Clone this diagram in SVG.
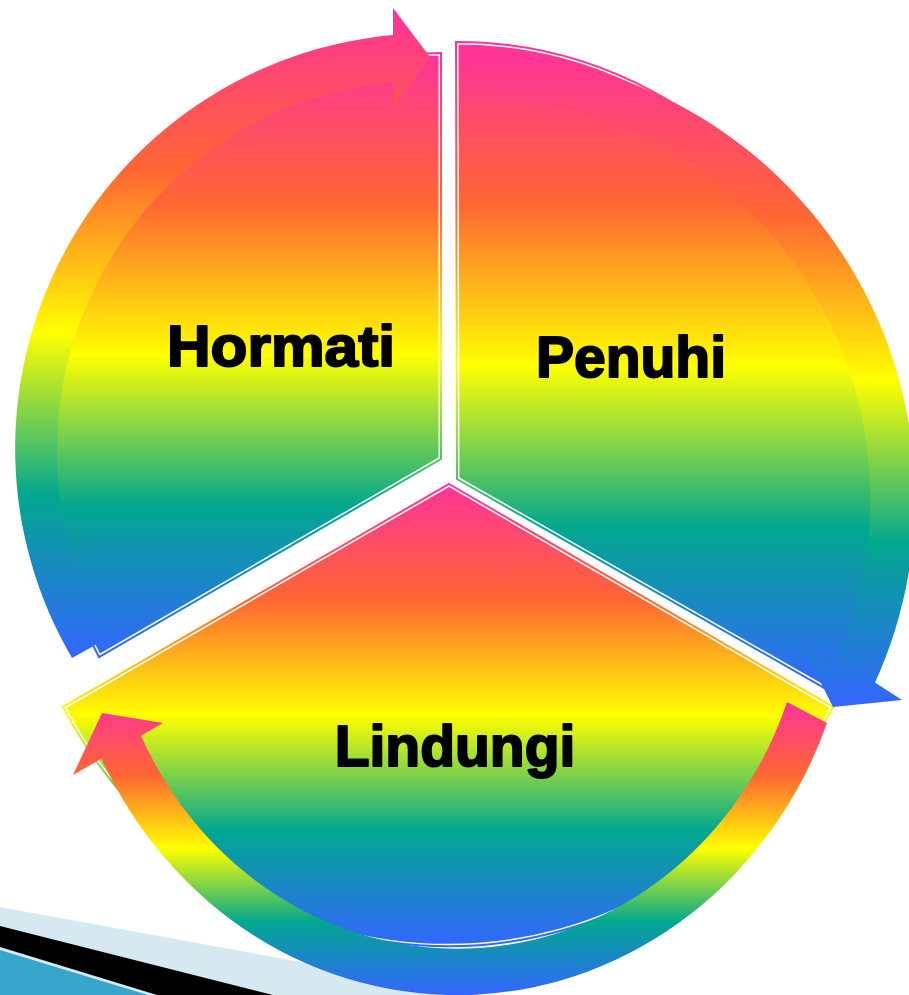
<svg xmlns="http://www.w3.org/2000/svg" width="909" height="995" viewBox="0 0 909 995">
<defs>
<linearGradient id="rb" x1="0" y1="0" x2="0" y2="1">
<stop offset="0" stop-color="#FF3399"/>
<stop offset="0.25" stop-color="#FF6633"/>
<stop offset="0.5" stop-color="#FFFF00"/>
<stop offset="0.75" stop-color="#01A78F"/>
<stop offset="1" stop-color="#3366FF"/>
</linearGradient>
<style>
.fill{fill:url(#rb)}
.gap{fill:none;stroke:#fff;stroke-width:5;stroke-linejoin:miter}
.edge{fill:none;stroke:url(#rb);stroke-width:2;stroke-linejoin:miter}
.arrow{fill:url(#rb)}
.lbl{font-family:"Liberation Sans",Arial,sans-serif;font-weight:bold;font-size:57px;fill:#000;stroke:#000;stroke-width:2;stroke-linejoin:round;text-anchor:middle}
</style>
</defs>
<rect width="909" height="995" fill="#fff"/>
<g id="decor">
<polygon points="0,907 481,995 0,995" fill="#D6E9F1"/>
<polygon points="0,926 273,995 157,995 0,947" fill="#000"/>
<polygon points="0,950 148,995 0,995" fill="#38A6CB"/>
</g>
<g id="sectors">
<g id="sector-hormati">
<path class="fill" d="M441,459 L441,53 A392,406 0 0,0 99,657 Z"/>
<path class="gap" d="M441,459 L441,53 A392,406 0 0,0 99,657 Z"/>
<path class="edge" d="M441,459 L441,53 A392,406 0 0,0 99,657 Z"/>
</g>
<g id="sector-penuhi">
<path class="fill" d="M457,479 L456,42 A424,437 0 0,1 828,690 Z"/>
<path class="gap" d="M457,479 L456,42 A424,437 0 0,1 828,690 Z"/>
<path class="edge" d="M457,479 L456,42 A424,437 0 0,1 828,690 Z"/>
</g>
<g id="sector-lindungi">
<path class="fill" d="M449,484 L833,707 A440,464 0 0,1 63,707 Z"/>
<path class="gap" d="M449,484 L833,707 A440,464 0 0,1 63,707 Z"/>
<path class="edge" d="M449,484 L833,707 A440,464 0 0,1 63,707 Z"/>
</g>
</g>
<g id="connectors">
<path id="arrow-hormati" class="arrow" d="M72,658 A415,415 0 0,1 393,35 L393,8 L430,57 L393,110 L393,82 A370,370 0 0,0 108,638 Z"/>
<path id="arrow-penuhi" class="arrow" d="M462,53 A445,445 0 0,1 875,682.5 L902,700 L833,707 L805,651 L834,664 A400,400 0 0,0 462,98 Z"/>
<path id="arrow-lindungi" class="arrow" d="M827,723 A395,419 0 0,1 101.5,758.6 L73,775 L102,713 L163,723 L141,735.7 A350,372 0 0,0 787,702 Z"/>
</g>
<g id="labels">
<text id="label-hormati" class="lbl" x="281" y="366" textLength="228" lengthAdjust="spacingAndGlyphs">Hormati</text>
<text id="label-penuhi" class="lbl" x="631" y="377">Penuhi</text>
<text id="label-lindungi" class="lbl" x="455" y="766">Lindungi</text>
</g>
</svg>
